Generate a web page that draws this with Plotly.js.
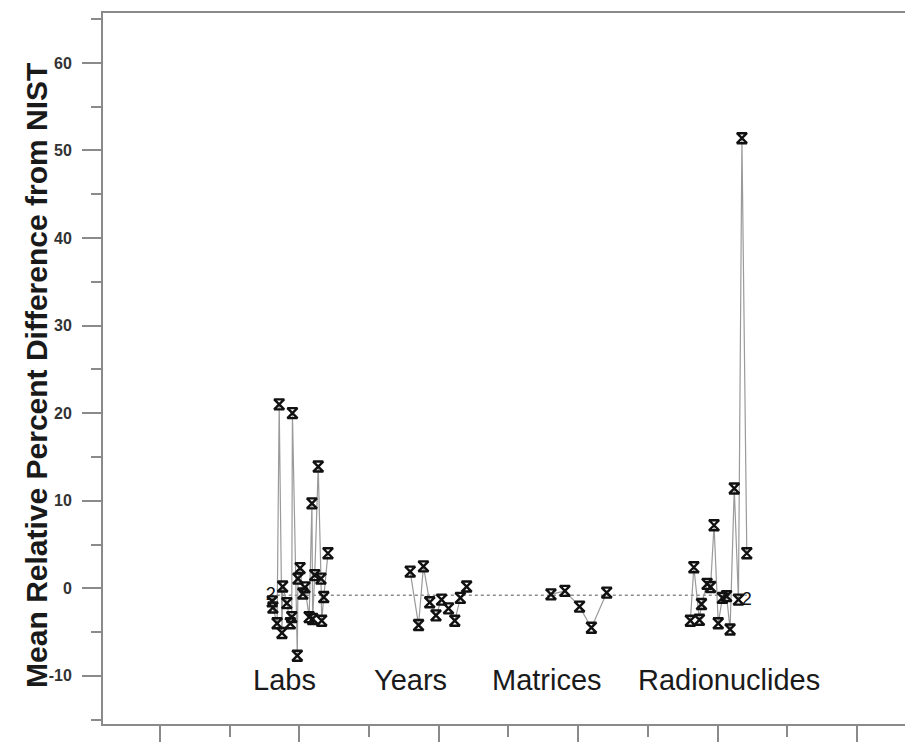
<!DOCTYPE html>
<html>
<head>
<meta charset="utf-8">
<script src="https://cdn.plot.ly/plotly-3.0.1.min.js"></script>
<style>html,body{margin:0;padding:0;background:#fff;}#chart{width:905px;height:742px;}</style>
</head>
<body>
<div id="chart"></div>
<script>
// ---- data (positions along the axis, mean relative percent difference) ----
const labsX = [16.1,16.2,16.8,17.1,17.5,17.6,18.2,18.7,18.9,19.0,19.7,19.8,20.1,20.5,20.8,21.4,21.8,21.9,22.2,22.7,23.1,23.2,23.5,24.1];
const labsY = [-1.5,-2.2,-4.0,21.0,-5.1,0.2,-1.7,-4.0,-3.3,20.0,-7.7,1.1,2.3,-0.6,0.1,-3.3,9.7,-3.5,1.5,13.9,1.1,-3.7,-1.0,4.0];
const yearsX = [35.9,37.1,37.8,38.7,39.6,40.4,41.4,42.3,43.1,44.0];
const yearsY = [1.9,-4.2,2.5,-1.6,-3.1,-1.3,-2.3,-3.7,-1.1,0.2];
const matricesX = [56.1,58.1,60.2,61.9,64.1];
const matricesY = [-0.7,-0.3,-2.1,-4.5,-0.5];
const radioX = [76.1,76.6,77.4,77.7,78.5,79.0,79.5,80.1,80.7,81.3,81.8,82.4,83.0,83.5,84.2];
const radioY = [-3.7,2.4,-3.6,-1.8,0.5,0.15,7.2,-4.0,-1.1,-0.9,-4.7,11.4,-1.3,51.4,4.0];
// points labelled "2" (two coincident observations)
const dupX = [15.9,84.2];
const dupY = [-0.8,-1.45];
const meanValue = -0.8;
const groupNames = ["Labs","Years","Matrices","Radionuclides"];
const groupLabelX = [17.9,36.0,55.6,81.6];
const groupLabelY = -10.5;
const yTickVals = [-10,0,10,20,30,40,50,60];
const yTickText = ["-10","0","10","20","30","40","50","60"];
const yTitle = "Mean Relative Percent Difference from NIST";

const lineStyle = {color:'#9a9a9a', width:1.2};
const markerStyle = {symbol:'hourglass-open', size:10, color:'#111', line:{color:'#111', width:2.4}};

function series(x,y){
  return {x:x, y:y, type:'scatter', mode:'lines+markers', line:lineStyle, marker:markerStyle, hoverinfo:'skip', showlegend:false};
}
const allX = [].concat(labsX, yearsX, matricesX, radioX, dupX);
const xMin = Math.min.apply(null, allX), xMax = Math.max.apply(null, allX);

const traces = [
  {x:[xMin,xMax], y:[meanValue,meanValue], type:'scatter', mode:'lines',
   line:{color:'#8c8c8c', width:1.5, dash:'dot'}, hoverinfo:'skip', showlegend:false},
  series(labsX, labsY),
  series(yearsX, yearsY),
  series(matricesX, matricesY),
  series(radioX, radioY),
  {x:dupX, y:dupY, type:'scatter', mode:'text', text:dupX.map(()=> '2'),
   textfont:{family:'Liberation Sans, Arial, sans-serif', size:18, color:'#111'},
   textposition:'middle center', hoverinfo:'skip', showlegend:false}
];

const annotations = groupNames.map((t,i)=>({
  x:groupLabelX[i], y:groupLabelY, xref:'x', yref:'y', text:t, showarrow:false,
  xanchor:'center', yanchor:'middle',
  font:{family:'Liberation Sans, Arial, sans-serif', size:29, color:'#1a1a1a'}
}));
annotations.push({
  x:-0.0823, y:0.491, xref:'paper', yref:'paper', text:yTitle, textangle:-90, showarrow:false,
  xanchor:'center', yanchor:'middle',
  font:{family:'Liberation Sans, Arial, sans-serif', size:30, color:'#1a1a1a', weight:'bold'}
});

const layout = {
  width:905, height:742,
  margin:{l:103, r:0, t:13, b:18},
  paper_bgcolor:'#fff', plot_bgcolor:'#fff',
  showlegend:false,
  xaxis:{
    range:[-8.18,106.9], showgrid:false, zeroline:false,
    showline:true, linecolor:'#8a8a8a', linewidth:2, mirror:true,
    ticks:'outside', tick0:0, dtick:20, ticklen:19, tickwidth:2, tickcolor:'#8a8a8a',
    minor:{ticks:'outside', dtick:10, ticklen:11, tickwidth:2, tickcolor:'#8a8a8a'},
    showticklabels:false
  },
  yaxis:{
    range:[-15.5,65.7], showgrid:false, zeroline:false,
    showline:true, linecolor:'#8a8a8a', linewidth:2, mirror:false,
    ticks:'outside', tickmode:'array', tickvals:yTickVals, ticktext:yTickText,
    ticklen:19, tickwidth:2, tickcolor:'#8a8a8a',
    minor:{ticks:'outside', dtick:5, tick0:0, ticklen:10, tickwidth:2, tickcolor:'#8a8a8a'},
    ticklabelstandoff:7,
    tickfont:{family:'Liberation Sans, Arial, sans-serif', size:16, color:'#333', weight:'bold'}
  },
  annotations:annotations
};

Plotly.newPlot('chart', traces, layout, {displayModeBar:false, staticPlot:true});
</script>
</body>
</html>
